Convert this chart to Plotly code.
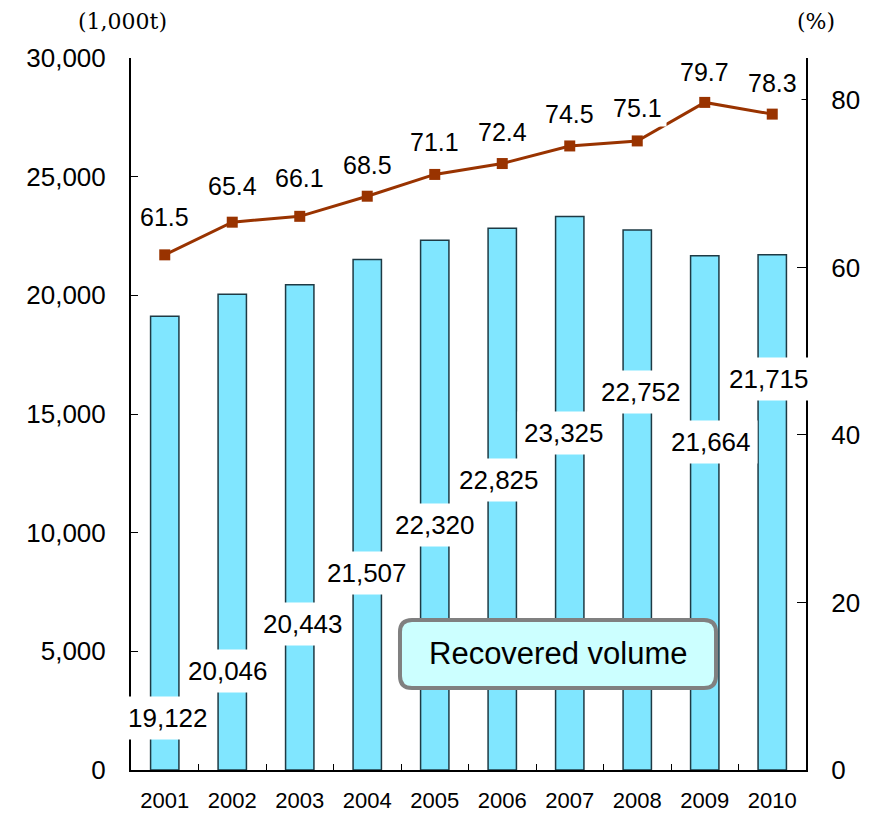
import plotly.graph_objects as go

years = ["2001", "2002", "2003", "2004", "2005", "2006", "2007", "2008", "2009", "2010"]
recovered_volume = [19122, 20046, 20443, 21507, 22320, 22825, 23325, 22752, 21664, 21715]
recovery_rate = [61.5, 65.4, 66.1, 68.5, 71.1, 72.4, 74.5, 75.1, 79.7, 78.3]

left_ticks = [0, 5000, 10000, 15000, 20000, 25000, 30000]
right_ticks = [0, 20, 40, 60, 80]

# label placement (styling only)
bar_label_y = [2191, 4171, 6152, 8301, 10323, 12219, 14199, 15927, 13820, 16475]
bar_label_dx = [3, -4, 3, 0, 0, -3, -6, 4, 6, -3]
line_label_shift = [38, 36, 38, 31, 32, 32, 32, 33, 30, 31]

FONT = "Liberation Sans, Arial, sans-serif"
SERIF = "DejaVu Serif, Liberation Serif, serif"

fig = go.Figure()
fig.add_trace(go.Bar(
    x=years, y=recovered_volume, width=0.42,
    marker=dict(color="#80E6FF", line=dict(color="#1E3A44", width=1.5)),
    yaxis="y", showlegend=False, hoverinfo="skip"))
fig.add_trace(go.Scatter(
    x=years, y=recovery_rate, mode="lines+markers",
    line=dict(color="#993300", width=3),
    marker=dict(symbol="square", size=11, color="#993300"),
    yaxis="y2", showlegend=False, hoverinfo="skip"))

annotations = []
for i, (v, ly, dx) in enumerate(zip(recovered_volume, bar_label_y, bar_label_dx)):
    annotations.append(dict(
        x=i, y=ly, xref="x", yref="y", text=f"{v:,}", showarrow=False,
        xanchor="center", yanchor="middle",
        xshift=dx, font=dict(family=FONT, size=26, color="black"),
        bgcolor="white", borderpad=6))
for i, (v, s) in enumerate(zip(recovery_rate, line_label_shift)):
    annotations.append(dict(
        x=i, y=v, xref="x", yref="y2", text=f"{v}", showarrow=False,
        xanchor="center", yanchor="middle",
        yshift=s, font=dict(family=FONT, size=25, color="black"),
        bgcolor="white", borderpad=4))

annotations.append(dict(
    x=-0.0119, y=1.0506, xref="paper", yref="paper", text="(1,000t)",
    xanchor="center", yanchor="middle",
    showarrow=False, font=dict(family=SERIF, size=22, color="black")))
annotations.append(dict(
    x=1.0148, y=1.0506, xref="paper", yref="paper", text="(%)",
    xanchor="center", yanchor="middle",
    showarrow=False, font=dict(family=SERIF, size=22, color="black")))

# legend-like box
x0, x1, y0, y1 = 0.3985, 0.8667, 0.1152, 0.2107
rx, ry = 0.0178, 0.0169
path = (f"M {x0+rx},{y0} L {x1-rx},{y0} Q {x1},{y0} {x1},{y0+ry} "
        f"L {x1},{y1-ry} Q {x1},{y1} {x1-rx},{y1} L {x0+rx},{y1} "
        f"Q {x0},{y1} {x0},{y1-ry} L {x0},{y0+ry} Q {x0},{y0} {x0+rx},{y0} Z")
shapes = [dict(type="path", xref="paper", yref="paper", path=path,
               fillcolor="#CCFFFF", line=dict(color="#808080", width=4), layer="above")]
annotations.append(dict(
    x=(x0 + x1) / 2, y=(y0 + y1) / 2, xref="paper", yref="paper",
    xanchor="center", yanchor="middle",
    text="Recovered volume", showarrow=False,
    font=dict(family=FONT, size=31, color="black")))

# page body adds an 8px offset; size the figure so the plot area lands in place
fig.update_layout(
    width=867, height=807,
    margin=dict(l=123, r=69, t=50, b=45, autoexpand=False),
    paper_bgcolor="white", plot_bgcolor="white",
    font=dict(family=FONT, color="black"),
    xaxis=dict(type="category", showline=True, linecolor="black", linewidth=2,
               ticks="inside", tickson="boundaries", ticklen=6, tickcolor="black",
               tickfont=dict(size=22), showgrid=False, ticklabelstandoff=10,
               range=[-0.5, 9.5], automargin=False),
    yaxis=dict(range=[0, 30000], tickvals=left_ticks, tickformat=",d",
               showline=True, linecolor="black", linewidth=2, ticks="inside",
               ticklen=7, tickcolor="black", tickfont=dict(size=26),
               showgrid=False, zeroline=False, ticklabelstandoff=18, automargin=False),
    yaxis2=dict(range=[0, 85], tickvals=right_ticks, overlaying="y", side="right",
                showline=True, linecolor="black", linewidth=2, ticks="inside",
                ticklen=9, tickcolor="black", tickfont=dict(size=26),
                showgrid=False, zeroline=False, ticklabelstandoff=18, automargin=False),
    annotations=annotations, shapes=shapes,
)

fig.write_html("out.html")
